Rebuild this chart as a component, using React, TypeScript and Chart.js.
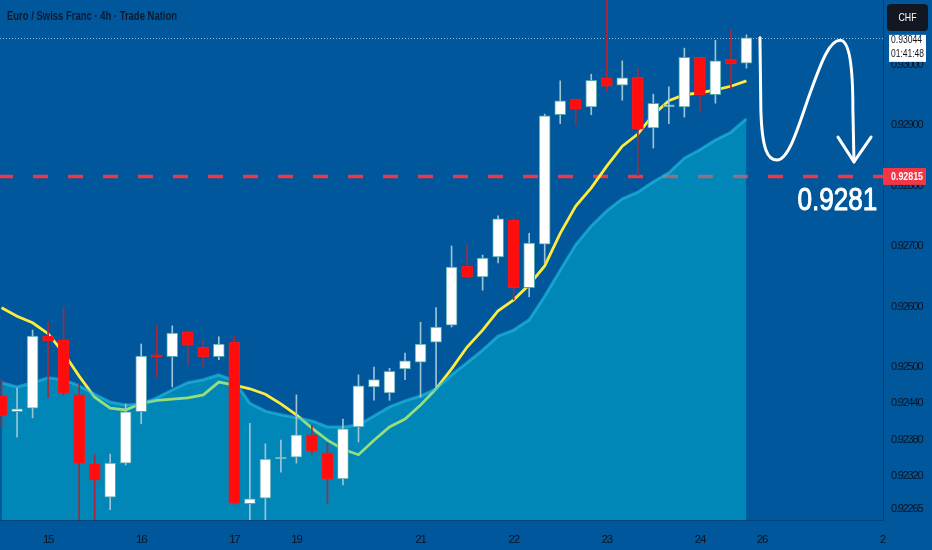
import React, { useEffect, useRef } from 'react';
import { Chart, registerables } from 'chart.js';

Chart.register(...registerables);

// ---------- data ----------
const TITLE = 'Euro / Swiss Franc · 4h · Trade Nation';
const CURRENCY = 'CHF';
const LAST_PRICE = 0.93044;
const COUNTDOWN = '01:41:48';
const TARGET = 0.92815;
const TARGET_TEXT = '0.9281';

const OPEN = [
  0.92452, 0.92426, 0.92432, 0.92551, 0.92545, 0.92454, 0.9234, 0.92285, 0.92341, 0.92426,
  0.92518, 0.92517, 0.92558, 0.92533, 0.92517, 0.92541, 0.92274, 0.92283, 0.92348, 0.92351,
  0.92388, 0.92358, 0.92315, 0.92401, 0.92467, 0.92457, 0.92497, 0.92508, 0.92541, 0.92569,
  0.92667, 0.92649, 0.92682, 0.92743, 0.92631, 0.92703, 0.92917, 0.92943, 0.9293, 0.92978,
  0.92966, 0.92979, 0.92895, 0.9293, 0.9293, 0.93012, 0.9295, 0.93009, 0.93002,
];
const HIGH = [
  0.9248, 0.92465, 0.92561, 0.92574, 0.92599, 0.92472, 0.92355, 0.92356, 0.92439, 0.92538,
  0.92568, 0.92568, 0.92561, 0.92545, 0.9255, 0.92551, 0.92407, 0.92373, 0.92379, 0.92454,
  0.92404, 0.92374, 0.92414, 0.92487, 0.925, 0.92498, 0.92523, 0.92574, 0.92598, 0.927,
  0.92702, 0.92685, 0.9275, 0.92746, 0.92721, 0.92918, 0.92973, 0.92943, 0.92984, 0.9312,
  0.93006, 0.92993, 0.92951, 0.92963, 0.93027, 0.93012, 0.9304, 0.93057, 0.93049,
];
const LOW = [
  0.92401, 0.92384, 0.92416, 0.92449, 0.92454, 0.9224, 0.9224, 0.92264, 0.92338, 0.92406,
  0.92483, 0.92467, 0.92503, 0.925, 0.92512, 0.92273, 0.9224, 0.9224, 0.92326, 0.92341,
  0.92356, 0.92275, 0.92305, 0.92376, 0.92445, 0.92445, 0.92479, 0.9245, 0.92467, 0.92566,
  0.92647, 0.92627, 0.92672, 0.92611, 0.92616, 0.92672, 0.92902, 0.929, 0.92917, 0.92956,
  0.92941, 0.92816, 0.92862, 0.92902, 0.92913, 0.92921, 0.92936, 0.9296, 0.92994,
];
const CLOSE = [
  0.92419, 0.92431, 0.92551, 0.92543, 0.92457, 0.92341, 0.92313, 0.92341, 0.92426, 0.92518,
  0.92517, 0.92556, 0.92536, 0.92517, 0.92538, 0.92275, 0.92282, 0.92348, 0.92351, 0.92388,
  0.92361, 0.92315, 0.92398, 0.92469, 0.92479, 0.92493, 0.9251, 0.92538, 0.92566, 0.92665,
  0.92649, 0.9268, 0.92745, 0.92631, 0.92705, 0.92915, 0.9294, 0.92926, 0.92974, 0.92964,
  0.92978, 0.92893, 0.92936, 0.9293, 0.93012, 0.9295, 0.93006, 0.93001, 0.93044,
];
const EMA_FAST = [
  0.92598, 0.92584, 0.92573, 0.92555, 0.92523, 0.92485, 0.9245, 0.92432, 0.92429, 0.9244,
  0.92445, 0.92447, 0.92449, 0.92454, 0.92475, 0.9247, 0.92464, 0.92455, 0.92439, 0.92421,
  0.92399, 0.92379, 0.92364, 0.92355, 0.92379, 0.92401, 0.92414, 0.92437, 0.92464, 0.92497,
  0.92533, 0.92561, 0.92593, 0.92611, 0.92636, 0.92667, 0.92721, 0.92766, 0.92796, 0.92832,
  0.92865, 0.92885, 0.92917, 0.9294, 0.9295, 0.92953, 0.92958, 0.92964, 0.92973,
];
const EMA_SLOW = [
  0.92474, 0.92467, 0.92474, 0.92482, 0.92479, 0.92469, 0.92455, 0.92442, 0.92437, 0.92439,
  0.92449, 0.92462, 0.92474, 0.92479, 0.92487, 0.92477, 0.9244, 0.92427, 0.92421, 0.92416,
  0.92411, 0.92401, 0.92401, 0.92404, 0.92419, 0.92434, 0.92444, 0.92452, 0.92464, 0.92487,
  0.92507, 0.92528, 0.92551, 0.92561, 0.92578, 0.92617, 0.9266, 0.92702, 0.92733, 0.92758,
  0.92778, 0.92789, 0.92806, 0.92821, 0.92845, 0.92859, 0.92875, 0.92888, 0.9291,
];

const X_TICK_POS = [3, 9, 15, 19, 27, 33, 39, 45, 49, 56.75];
const X_TICK_LABELS = ['15', '16', '17', '19', '21', '22', '23', '24', '26', '2'];
const Y_TICKS = [0.93, 0.929, 0.928, 0.927, 0.926, 0.925, 0.9244, 0.9238, 0.9232, 0.92265];

const X_MIN = -0.1;
const X_MAX = 56.8;
const Y_MIN = 0.922471;
const Y_MAX = 0.931066;

// hand-drawn arrow annotation, in (candle index, price) units
const ARROW_PATH: Array<[string, ...number[]]> = [
  ['M', 48.87, 0.93044],
  ['L', 48.93, 0.92925],
  ['C', 49.0, 0.92859, 49.38, 0.92842, 49.97, 0.92842],
  ['C', 50.81, 0.92842, 51.45, 0.92908, 52.22, 0.92961],
  ['C', 52.87, 0.93007, 53.38, 0.9304, 54.03, 0.9304],
  ['C', 54.67, 0.9304, 54.86, 0.92991, 54.86, 0.92925],
  ['L', 54.93, 0.92839],
];
const ARROW_HEAD: Array<[number, number]> = [
  [53.9, 0.9288],
  [54.93, 0.92839],
  [56.03, 0.9288],
];
const TARGET_TEXT_POS: [number, number] = [53.86, 0.9276];

// ---------- styles ----------
const BG = '#01579b';
const AXIS_TEXT = '#0a1424';
const SANS = "'Liberation Sans', Arial, sans-serif";

// draw text squeezed horizontally to mimic a narrow typeface
function narrowText(
  ctx: CanvasRenderingContext2D,
  text: string,
  x: number,
  y: number,
  width: number,
  align: 'left' | 'center',
  stroke = 0,
) {
  const w = ctx.measureText(text).width;
  const s = width / w;
  ctx.save();
  ctx.translate(x, y);
  ctx.scale(s, 1);
  ctx.textAlign = align;
  ctx.fillText(text, 0, 0);
  if (stroke > 0) {
    ctx.strokeStyle = ctx.fillStyle;
    ctx.lineWidth = stroke;
    ctx.strokeText(text, 0, 0);
  }
  ctx.restore();
}

export default function App() {
  const ref = useRef<HTMLCanvasElement | null>(null);

  useEffect(() => {
    document.body.style.margin = '0';
    const canvas = ref.current;
    if (!canvas) return;

    const bull = OPEN.map((o, i) => CLOSE[i] >= o);

    const decor = {
      id: 'decor',
      beforeDraw(chart: any) {
        const { ctx, width, height } = chart;
        ctx.save();
        ctx.fillStyle = BG;
        ctx.fillRect(0, 0, width, height);
        ctx.restore();
        // tighter tracking for the axis labels (TradingView uses a narrow face)
        (ctx as any).letterSpacing = '-1.2px';
      },
      beforeDatasetsDraw(chart: any) {
        const { ctx, chartArea } = chart;
        const ys = chart.scales.y;
        ctx.save();
        const ty = ys.getPixelForValue(TARGET);
        ctx.strokeStyle = '#f23645';
        ctx.lineWidth = 3.5;
        ctx.setLineDash([15, 20]);
        ctx.lineDashOffset = 2;
        ctx.beginPath();
        ctx.moveTo(chartArea.left, ty);
        ctx.lineTo(chartArea.right, ty);
        ctx.stroke();
        const ly = Math.round(ys.getPixelForValue(LAST_PRICE)) + 0.5;
        ctx.strokeStyle = 'rgba(200,220,235,0.75)';
        ctx.lineWidth = 1;
        ctx.setLineDash([1, 2]);
        ctx.lineDashOffset = 0;
        ctx.beginPath();
        ctx.moveTo(chartArea.left, ly);
        ctx.lineTo(chartArea.right, ly);
        ctx.stroke();
        ctx.restore();
      },
      afterDatasetsDraw(chart: any) {
        const { ctx } = chart;
        const xs = chart.scales.x;
        const ys = chart.scales.y;
        const X = (v: number) => xs.getPixelForValue(v);
        const Y = (v: number) => ys.getPixelForValue(v);
        ctx.save();
        (ctx as any).letterSpacing = '0px';
        ctx.strokeStyle = '#ffffff';
        ctx.lineWidth = 3;
        ctx.lineCap = 'round';
        ctx.lineJoin = 'round';
        ctx.beginPath();
        ARROW_PATH.forEach((seg) => {
          const [cmd, ...n] = seg;
          if (cmd === 'M') ctx.moveTo(X(n[0]), Y(n[1]));
          else if (cmd === 'L') ctx.lineTo(X(n[0]), Y(n[1]));
          else ctx.bezierCurveTo(X(n[0]), Y(n[1]), X(n[2]), Y(n[3]), X(n[4]), Y(n[5]));
        });
        ctx.stroke();
        ctx.beginPath();
        ARROW_HEAD.forEach(([a, b], i) => {
          if (i === 0) ctx.moveTo(X(a), Y(b));
          else ctx.lineTo(X(a), Y(b));
        });
        ctx.stroke();
        // big target text
        ctx.fillStyle = '#ffffff';
        ctx.font = `32px ${SANS}`;
        ctx.textBaseline = 'alphabetic';
        narrowText(ctx, TARGET_TEXT, X(TARGET_TEXT_POS[0]), Y(TARGET_TEXT_POS[1]), 80, 'center', 1);
        // title
        ctx.fillStyle = '#0f1a2e';
        ctx.font = `bold 12px ${SANS}`;
        ctx.textBaseline = 'middle';
        narrowText(ctx, TITLE, 7, 17, 170, 'left');
        ctx.restore();
      },
      afterDraw(chart: any) {
        const { ctx, chartArea } = chart;
        const ys = chart.scales.y;
        const left = chartArea.right;
        ctx.save();
        (ctx as any).letterSpacing = '0px';
        ctx.fillStyle = '#131722';
        ctx.beginPath();
        (ctx as any).roundRect(left + 4, 4, 41, 27, 4);
        ctx.fill();
        ctx.fillStyle = '#ffffff';
        ctx.font = `11.5px ${SANS}`;
        ctx.textBaseline = 'middle';
        narrowText(ctx, CURRENCY, left + 24.5, 18, 18, 'center');
        // last price box
        const ly = ys.getPixelForValue(LAST_PRICE);
        ctx.fillStyle = '#ffffff';
        ctx.fillRect(left + 6, ly - 3, 37, 27);
        ctx.fillStyle = '#131722';
        ctx.font = `11px ${SANS}`;
        narrowText(ctx, LAST_PRICE.toFixed(5), left + 8, ly + 2, 31, 'left');
        narrowText(ctx, COUNTDOWN, left + 8, ly + 16, 33, 'left');
        // target price box
        const ty = ys.getPixelForValue(TARGET);
        ctx.fillStyle = '#f23645';
        ctx.fillRect(left, ty - 8.5, 43, 17);
        ctx.fillStyle = '#ffffff';
        ctx.font = `bold 11px ${SANS}`;
        narrowText(ctx, TARGET.toFixed(5), left + 8, ty + 0.5, 32, 'left');
        ctx.restore();
      },
    };

    const chart = new Chart(canvas, {
      type: 'bar',
      data: {
        datasets: [
          {
            type: 'line',
            label: 'EMA fast',
            data: EMA_FAST.map((v, i) => ({ x: i, y: v })),
            borderColor: '#ffeb3b',
            borderWidth: 2.8,
            pointRadius: 0,
            fill: false,
            tension: 0,
            order: 4,
          } as any,
          {
            type: 'line',
            label: 'EMA slow',
            data: EMA_SLOW.map((v, i) => ({ x: i, y: v })),
            borderColor: 'rgba(40,200,235,0.55)',
            borderWidth: 3,
            backgroundColor: 'rgba(0,202,223,0.41)',
            pointRadius: 0,
            fill: 'start',
            tension: 0,
            order: 3,
          } as any,
          {
            type: 'bar',
            label: 'wick',
            data: LOW.map((l, i) => ({ x: i, y: [l, HIGH[i]] })),
            backgroundColor: bull.map((b) => (b ? '#9cc4d6' : '#a8283a')),
            borderWidth: 0,
            barThickness: 1,
            grouped: false,
            order: 2,
          } as any,
          {
            type: 'bar',
            label: 'body',
            data: OPEN.map((o, i) => ({ x: i, y: [o, CLOSE[i]] })),
            backgroundColor: bull.map((b) => (b ? '#ffffff' : '#ff0d0d')),
            borderColor: bull.map((b) => (b ? '#4fa6ac' : '#ee1c24')),
            borderWidth: 1,
            borderSkipped: false,
            barThickness: 11,
            minBarLength: 2,
            grouped: false,
            order: 1,
          } as any,
        ],
      },
      options: {
        animation: false,
        responsive: true,
        maintainAspectRatio: false,
        layout: { padding: 0 },
        plugins: {
          legend: { display: false },
          tooltip: { enabled: false },
          title: { display: false },
        },
        scales: {
          x: {
            type: 'linear',
            min: X_MIN,
            max: X_MAX,
            offset: false,
            grid: { display: false, offset: false },
            border: { display: true, color: 'rgba(0,30,70,0.35)' },
            afterBuildTicks: (scale: any) => {
              scale.ticks = X_TICK_POS.map((v) => ({ value: v }));
            },
            afterFit: (scale: any) => {
              scale.height = 30;
              scale.paddingLeft = 0;
              scale.paddingRight = 0;
            },
            ticks: {
              autoSkip: false,
              maxRotation: 0,
              padding: 5,
              color: AXIS_TEXT,
              font: { family: SANS, size: 11.5 },
              callback: (_v: any, i: number) => X_TICK_LABELS[i],
            },
          },
          y: {
            type: 'linear',
            position: 'right',
            min: Y_MIN,
            max: Y_MAX,
            grid: { display: false, drawTicks: false },
            border: { display: true, color: 'rgba(0,30,70,0.35)' },
            afterBuildTicks: (scale: any) => {
              scale.ticks = Y_TICKS.map((v) => ({ value: v }));
            },
            afterFit: (scale: any) => {
              scale.width = 49;
              scale.paddingTop = 0;
              scale.paddingBottom = 0;
            },
            ticks: {
              autoSkip: false,
              padding: 8,
              color: AXIS_TEXT,
              font: { family: SANS, size: 11 },
              callback: (v: any) => Number(v).toFixed(5),
            },
          },
        },
      } as any,
      plugins: [decor],
    });

    return () => chart.destroy();
  }, []);

  return (
    <div style={{ width: 932, height: 550, position: 'relative' }}>
      <canvas ref={ref} />
    </div>
  );
}
